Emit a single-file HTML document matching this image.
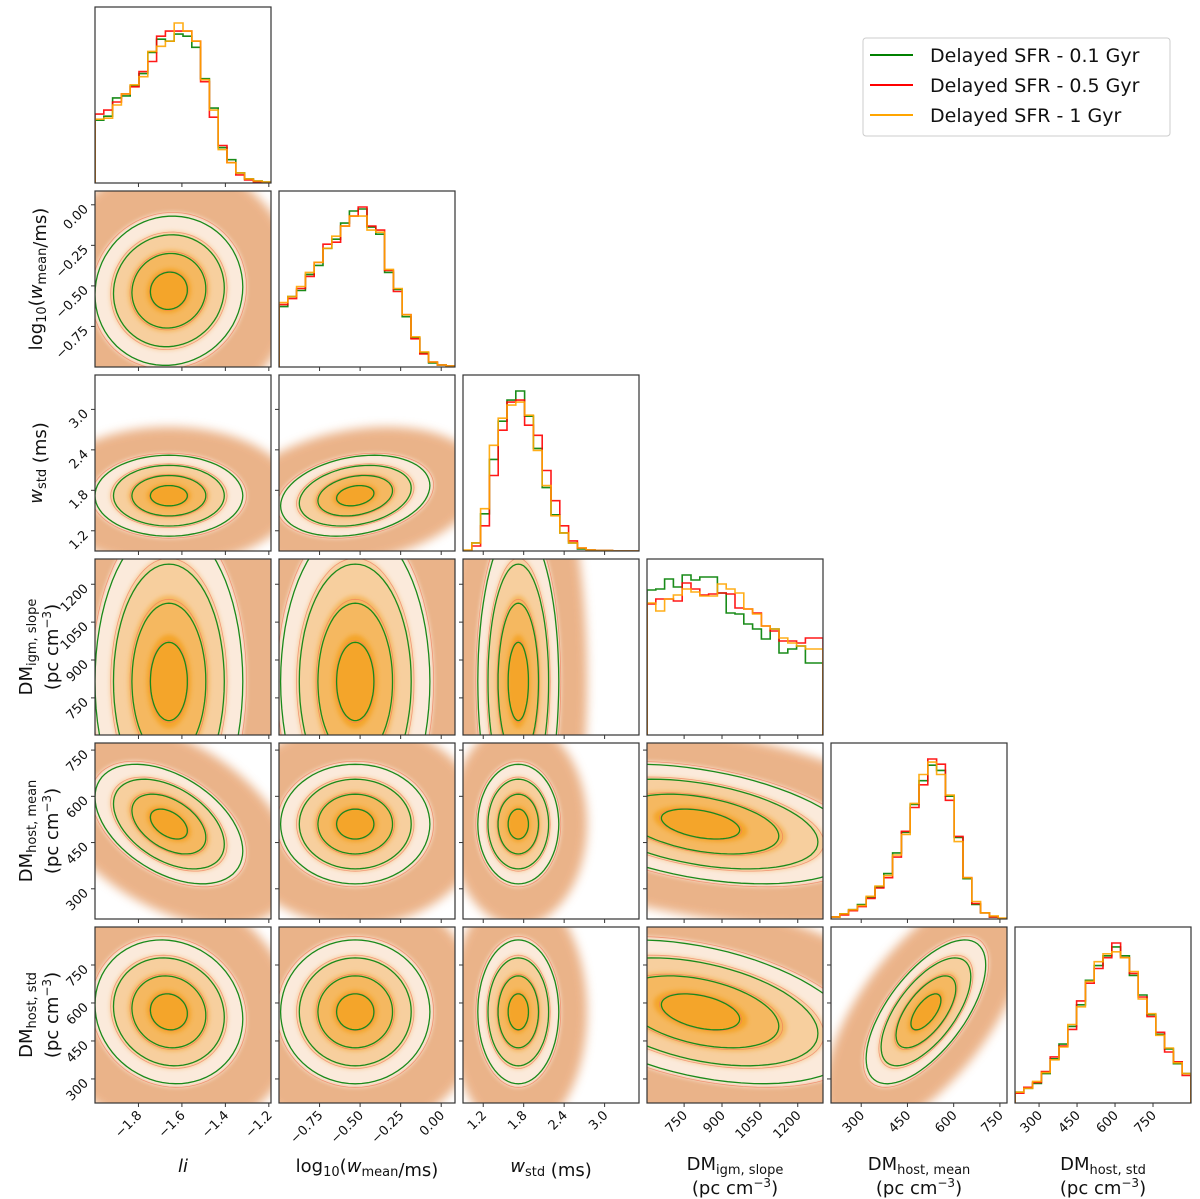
<!DOCTYPE html>
<html><head><meta charset="utf-8"><style>
body{margin:0;background:#fff}
svg{display:block;font-family:"DejaVu Sans","Liberation Sans",sans-serif}
</style></head><body>
<svg id="fig" width="1200" height="1199" viewBox="0 0 1200 1199" xmlns="http://www.w3.org/2000/svg">
<defs>
<filter id="blur" x="-20%" y="-20%" width="140%" height="140%"><feGaussianBlur stdDeviation="5"/></filter>
<filter id="blur2" x="-20%" y="-20%" width="140%" height="140%"><feGaussianBlur stdDeviation="2"/></filter>
</defs>
<g id="panels"></g>
<g id="labels"></g>
<g>
<rect x="863" y="38" width="307" height="98" rx="3" fill="#fff" stroke="#ccc" stroke-width="1"/>
<line x1="870" y1="55" x2="913" y2="55" stroke="green" stroke-width="2"/>
<text x="930" y="62" font-size="19" fill="#111">Delayed SFR - 0.1 Gyr</text>
<line x1="870" y1="85" x2="913" y2="85" stroke="red" stroke-width="2"/>
<text x="930" y="92" font-size="19" fill="#111">Delayed SFR - 0.5 Gyr</text>
<line x1="870" y1="115" x2="913" y2="115" stroke="orange" stroke-width="2"/>
<text x="930" y="122" font-size="19" fill="#111">Delayed SFR - 1 Gyr</text>
</g>
</svg>
<script>
// ---- data ----
const varNames = ["li","logw","wstd","igm","hm","hs"];
const ranges = [[-2.0,-1.19],[-1.0,0.085],[0.9,3.51],[603,1300],[202,773],[205,900]];
const ticks = [[-1.8,-1.6,-1.4,-1.2],[-0.75,-0.5,-0.25,0.0],[1.2,1.8,2.4,3.0],[750,900,1050,1200],[300,450,600,750],[300,450,600,750]];
const tickLabels = [["−1.8","−1.6","−1.4","−1.2"],["−0.75","−0.50","−0.25","0.00"],["1.2","1.8","2.4","3.0"],["750","900","1050","1200"],["300","450","600","750"],["300","450","600","750"]];
const means = [-1.66,-0.53,1.72,815,510,565];
const sds = [0.17,0.23,0.3,310,97,142];
const rhos = {"1-0":0.05,"2-0":0.0,"2-1":0.25,"3-0":0.0,"3-1":0.0,"3-2":0.0,"4-0":-0.45,"4-1":0.0,"4-2":0.0,"4-3":-0.4,"5-0":-0.1,"5-1":0.0,"5-2":0.0,"5-3":-0.4,"5-4":0.65};
const levels = [0.5,1.0,1.5,2.0];
const histGreen = [
 [62,66,84,86,96,108,129,142,140,147,145,134,103,74,35,23,10,4,2,1],
 [60,70,76,92,101,118,127,143,155,157,139,132,94,77,50,29,14,4,2,1],
 [0,8,37,91,129,150,159,134,102,63,36,18,8,2,1,0.5,0.5,0,0,0],
 [145,146,156,148,160,155,158,158,142,122,121,111,106,96,106,82,86,89,72,72],
 [2,5,9,14,21,31,44,64,84,111,134,149,144,119,79,39,14,6,2,0],
 [11,15,20,30,45,60,78,100,125,140,150,159,150,130,110,90,70,55,40,30]];
const histRed = [
 [68,72,80,88,95,110,120,145,150,150,150,140,100,65,37,20,8,3,1,0.5],
 [62,68,78,90,104,122,124,140,150,159,140,136,96,75,52,28,13,5,2,1],
 [0,5,25,75,120,148,150,125,115,80,50,25,10,3,1,0.5,0.5,0,0,0],
 [131,136,136,134,152,146,140,141,142,141,127,126,122,109,104,94,94,92,97,97],
 [2,4,8,12,20,30,40,60,85,108,130,155,150,115,80,40,15,6,2,0],
 [10,16,21,32,47,58,75,104,122,137,148,163,148,132,108,88,72,52,42,28]];
const histOrange = [
 [63,64,77,88,97,105,130,135,140,158,150,140,102,72,33,20,10,4,2,1],
 [64,70,80,94,104,118,130,140,150,150,136,134,97,78,52,30,15,5,2,1],
 [1,8,42,105,132,145,148,135,100,65,35,18,8,3,1,0.5,0.5,0,0,0],
 [132,124,136,140,146,143,139,139,151,146,142,126,121,109,106,97,92,89,86,86],
 [2,5,9,13,22,32,42,62,82,112,140,152,140,120,75,40,17,6,3,1],
 [11,15,22,31,44,57,80,98,124,144,152,154,148,134,106,91,69,56,41,30]];

// ---- layout ----
const NS="http://www.w3.org/2000/svg";
const P0x=95,P0y=7,STEP=184,SZ=176;
function el(tag,attrs,parent){const e=document.createElementNS(NS,tag);for(const k in attrs)e.setAttribute(k,attrs[k]);if(parent)parent.appendChild(e);return e;}
function scaleX(v,x0,val){const r=ranges[v];return x0+(val-r[0])/(r[1]-r[0])*SZ;}
function scaleY(v,y0,val){const r=ranges[v];return y0+SZ-(val-r[0])/(r[1]-r[0])*SZ;}
const panels=document.getElementById('panels');
const labels=document.getElementById('labels');

function ellipsePath(i,j,x0,y0,k,scale){
  const rho=rhos[i+"-"+j];let d="";
  for(let s=0;s<=72;s++){const t=s/72*2*Math.PI;
    const vx=means[j]+k*scale*sds[j]*Math.cos(t);
    const vy=means[i]+k*scale*sds[i]*(rho*Math.cos(t)+Math.sqrt(1-rho*rho)*Math.sin(t));
    d+=(s?"L":"M")+scaleX(j,x0,vx).toFixed(1)+","+scaleY(i,y0,vy).toFixed(1);}
  return d+"Z";
}

for(let i=0;i<6;i++){for(let j=0;j<=i;j++){
  const x0=P0x+STEP*j,y0=P0y+STEP*i;
  const g=el('g',{},panels);
  
  
  const cid='clip'+i+j;
  const cp=el('clipPath',{id:cid},g);el('rect',{x:x0,y:y0,width:SZ,height:SZ},cp);
  const inner=el('g',{'clip-path':'url(#'+cid+')'},g);
  if(i===j){
    const series=[[histGreen[i],'green'],[histRed[i],'red'],[histOrange[i],'orange']];
    let mx=0;series.forEach(s=>s[0].forEach(v=>mx=Math.max(mx,v)));mx*=1.1;
    series.forEach(([arr,col])=>{
      const n=arr.length,r=ranges[i];let d="";
      for(let b=0;b<n;b++){
        const xa=scaleX(i,x0,r[0]+(r[1]-r[0])*b/n),xb=scaleX(i,x0,r[0]+(r[1]-r[0])*(b+1)/n);
        const y=y0+SZ-arr[b]/mx*SZ;
        d+=(b?"L":"M"+xa.toFixed(1)+","+(y0+SZ)+"L")+xa.toFixed(1)+","+y.toFixed(1)+"L"+xb.toFixed(1)+","+y.toFixed(1);
      }
      d+="L"+(x0+SZ)+","+(y0+SZ);
      const p=el('path',{d:d,fill:'none',stroke:col,'stroke-width':1.6,opacity:0.9},inner);
      
      
    });
  } else {
    const cloud=el('path',{d:ellipsePath(i,j,x0,y0,3.4,1),fill:'#e49a62',opacity:0.75,filter:'url(#blur)'},inner);
    
    
    const fills=['#fbeadb','#f7cf9e','#f5b860','#f4a52a'];
    for(let l=levels.length-1;l>=0;l--){
      el('path',{d:ellipsePath(i,j,x0,y0,levels[l]+0.1,1),fill:fills[levels.length-1-l],filter:'url(#blur2)'},inner);
    }
    levels.forEach(k=>{
      const pr=el('path',{d:ellipsePath(i,j,x0,y0,k,1.05),fill:'none',stroke:'#f07a5a','stroke-width':0.8,opacity:0.7},inner);
      
      
      const pg=el('path',{d:ellipsePath(i,j,x0,y0,k,1),fill:'none',stroke:'#1a8a1a','stroke-width':1.3},inner);
      
      
    });
  }
  el('rect',{x:x0,y:y0,width:SZ,height:SZ,fill:'none',stroke:'#333','stroke-width':1.2},g);
  ticks[j].forEach((t,k)=>{const x=scaleX(j,x0,t);
    el('line',{x1:x,y1:y0+SZ,x2:x,y2:y0+SZ+4,stroke:'#333','stroke-width':1},g);
    if(i===5){const tx=el('text',{x:x+4,y:y0+SZ+13,'font-size':13,'text-anchor':'end',fill:'#111',transform:'rotate(-45 '+(x+4)+' '+(y0+SZ+13)+')'},labels);
      tx.textContent=tickLabels[j][k];
      
      }
  });
  if(i!==j){ticks[i].forEach((t,k)=>{const y=scaleY(i,y0,t);
    el('line',{x1:x0-4,y1:y,x2:x0,y2:y,stroke:'#333','stroke-width':1},g);
    if(j===0){const tx=el('text',{x:x0-6,y:y+5,'font-size':13,'text-anchor':'end',fill:'#111',transform:'rotate(-45 '+(x0-6)+' '+(y+5)+')'},labels);
      tx.textContent=tickLabels[i][k];
      
      }
  });}
}}

function addHTMLText(parent,x,y,html,opts){
  const t=el('text',Object.assign({x:x,y:y,'font-size':18,'text-anchor':'middle',fill:'#111'},opts||{}),parent);
  t.innerHTML=html;return t;}
const sub=(s)=>'<tspan font-size="13" dy="4">'+s+'</tspan><tspan dy="-4"></tspan>';
const unit='(pc cm<tspan font-size="12" dy="-7">−3</tspan><tspan dy="7">)</tspan>';
const xt=[
 ['<tspan font-style="italic">li</tspan>',null],
 ['log<tspan font-size="13" dy="4">10</tspan><tspan dy="-4">(</tspan><tspan font-style="italic">w</tspan>'+sub('mean')+'/ms)',null],
 ['<tspan font-style="italic">w</tspan>'+sub('std')+' (ms)',null],
 ['DM'+sub('igm, slope'),unit],
 ['DM'+sub('host, mean'),unit],
 ['DM'+sub('host, std'),unit]];
xt.forEach((a,j)=>{const cx=P0x+STEP*j+SZ/2;
  const t1=addHTMLText(labels,cx,a[1]?1170:1172,a[0]);
  
  
  if(a[1]){const t2=addHTMLText(labels,cx,1194,a[1]);
    
    }
});
xt.slice(1).forEach((a,idx)=>{const i=idx+1;const cy=P0y+STEP*i+SZ/2;
  const x1=a[1]?32:42;
  const t1=addHTMLText(labels,x1,cy,a[0],{transform:'rotate(-90 '+x1+' '+cy+')'});
  
  
  if(a[1]){const t2=addHTMLText(labels,58,cy,a[1],{transform:'rotate(-90 58 '+cy+')'});
    
    }
});
</script>
</body></html>
